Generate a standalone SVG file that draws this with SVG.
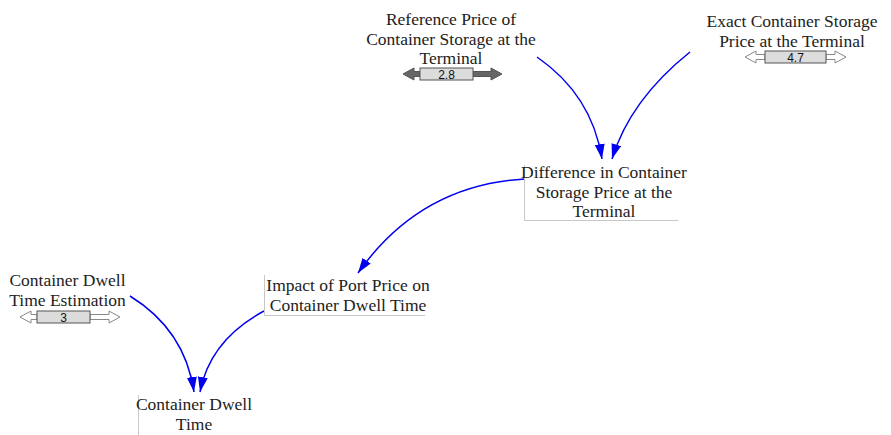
<svg xmlns="http://www.w3.org/2000/svg" width="891" height="435" viewBox="0 0 891 435">
<style>
.lbl{font-family:"Liberation Serif","Times New Roman",serif;font-size:17.5px;fill:#222;text-anchor:middle}
.val{font-family:"Liberation Sans",Arial,sans-serif;font-size:12px;fill:#111;text-anchor:middle}
.box{fill:#dcdcdc;stroke:#555;stroke-width:1}
.arrW{fill:#fff;stroke:#888;stroke-width:1}
.arrD{fill:#666;stroke:#555;stroke-width:1}
.edge{fill:none;stroke:#0000ee;stroke-width:1.5}
.frame{fill:none;stroke:#c8c8c8;stroke-width:1}
</style>
<defs>
<marker id="ah" markerUnits="userSpaceOnUse" markerWidth="17" markerHeight="11" refX="15" refY="5" orient="auto">
<path d="M0,0 L15,5 L0,10 z" fill="#0000ee"/>
</marker>
</defs>
<rect width="891" height="435" fill="#fff"/>
<g id="connectors">
<path class="edge" d="M537,57 Q592,95 602,159" marker-end="url(#ah)"/>
<path class="edge" d="M690,52 Q630,100 612,159" marker-end="url(#ah)"/>
<path class="edge" d="M525,179 Q420,185 358,273" marker-end="url(#ah)"/>
<path class="edge" d="M130,296 Q185,330 194,392" marker-end="url(#ah)"/>
<path class="edge" d="M264,311 Q210,340 200,392" marker-end="url(#ah)"/>
</g>
<g id="node-reference-price">
<text class="lbl" x="451" y="25">Reference Price of<tspan x="451" dy="19.5">Container Storage at the</tspan><tspan x="451" dy="19.5">Terminal</tspan></text>
<polygon class="arrD" points="403,74 414,68 414,71.5 420,71.5 420,76.5 414,76.5 414,80"/>
<polygon class="arrD" points="502,74 491,68 491,71.5 473,71.5 473,76.5 491,76.5 491,80"/>
<rect class="box" x="420" y="68" width="53" height="12"/>
<text class="val" x="446.5" y="78.5">2.8</text>
</g>
<g id="node-exact-price">
<text class="lbl" x="792" y="27">Exact Container Storage<tspan x="792" dy="19.5">Price at the Terminal</tspan></text>
<polygon class="arrW" points="745,57 756,51 756,54.5 765,54.5 765,59.5 756,59.5 756,63"/>
<polygon class="arrW" points="846,57 835,51 835,54.5 826,54.5 826,59.5 835,59.5 835,63"/>
<rect class="box" x="765" y="51" width="61" height="12"/>
<text class="val" x="795.5" y="61.5">4.7</text>
</g>
<g id="node-difference">
<path class="frame" d="M524.5,165 V220.5 H678"/>
<text class="lbl" x="604" y="178">Difference in Container<tspan x="604" dy="19.5">Storage Price at the</tspan><tspan x="604" dy="19.5">Terminal</tspan></text>
</g>
<g id="node-impact">
<path class="frame" d="M264.5,275 V315.5 H425"/>
<text class="lbl" x="348" y="291">Impact of Port Price on<tspan x="348" dy="19.5">Container Dwell Time</tspan></text>
</g>
<g id="node-dwell-estimation">
<text class="lbl" x="67.5" y="286">Container Dwell<tspan x="67.5" dy="19.5">Time Estimation</tspan></text>
<polygon class="arrW" points="20,317 31,311 31,314.5 37,314.5 37,319.5 31,319.5 31,323"/>
<polygon class="arrW" points="120,317 109,311 109,314.5 90,314.5 90,319.5 109,319.5 109,323"/>
<rect class="box" x="37" y="311" width="53" height="12"/>
<text class="val" x="63.5" y="321.5">3</text>
</g>
<g id="node-dwell-time">
<path class="frame" d="M138.5,395 V435"/>
<text class="lbl" x="194" y="410">Container Dwell<tspan x="194" dy="19.5">Time</tspan></text>
</g>
</svg>
